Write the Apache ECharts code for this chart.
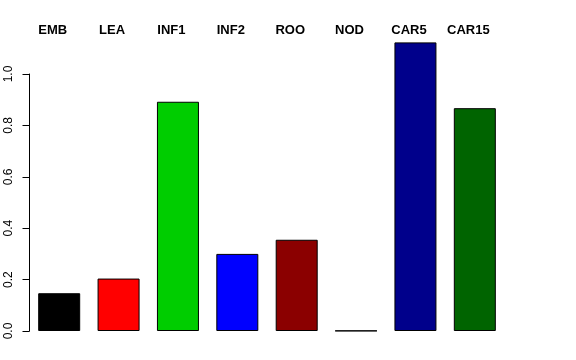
<!DOCTYPE html>
<html>
<head>
<meta charset="utf-8">
<script src="https://cdn.jsdelivr.net/npm/echarts@6/dist/echarts.min.js"></script>
<style>html,body{margin:0;padding:0;background:#fff;}#c{width:576px;height:360px;}</style>
</head>
<body>
<div id="c"></div>
<script>
const categories = ["EMB", "LEA", "INF1", "INF2", "ROO", "NOD", "CAR5", "CAR15"];
const values = [0.147, 0.204, 0.892, 0.300, 0.355, 0.001, 1.123, 0.867];
const colors = ["#000000", "#FF0000", "#00CD00", "#0000FF", "#8B0000", "#FFFFFF", "#00008B", "#006400"];
const yTicks = [0, 0.2, 0.4, 0.6, 0.8, 1.0];

const chart = echarts.init(document.getElementById('c'), null, {renderer: 'canvas'});
chart.setOption({
  animation: false,
  backgroundColor: '#ffffff',
  grid: [
    {left: 29.5, width: 475, top: 74, bottom: 29, containLabel: false},
    {left: 23, width: 475, top: 45, height: 10, containLabel: false}
  ],
  xAxis: [
    {type: 'category', data: categories, gridIndex: 0, show: false},
    {type: 'category', data: categories, gridIndex: 1, position: 'top',
     axisLine: {show: false}, axisTick: {show: false}, splitLine: {show: false},
     axisLabel: {show: true, fontFamily: 'Liberation Sans, Arial, sans-serif', fontWeight: 'bold', fontSize: 13, color: '#000', margin: 8}}
  ],
  yAxis: [
    {type: 'value', gridIndex: 0, min: yTicks[0], max: yTicks[yTicks.length - 1], interval: 0.2,
     axisLine: {show: true, lineStyle: {color: '#000', width: 1}},
     axisTick: {show: true, length: 7, lineStyle: {color: '#000', width: 1}},
     splitLine: {show: false},
     axisLabel: {rotate: 90, fontFamily: 'Liberation Sans, Arial, sans-serif', fontSize: 12, color: '#000', margin: 15,
                 formatter: v => v.toFixed(1)}},
    {type: 'value', gridIndex: 1, show: false}
  ],
  series: [{
    type: 'bar',
    xAxisIndex: 0, yAxisIndex: 0,
    clip: false,
    barWidth: 42,
    data: values.map((v, i) => ({value: v, itemStyle: {color: colors[i], borderColor: '#000', borderWidth: 1}}))
  }]
});
</script>
</body>
</html>
